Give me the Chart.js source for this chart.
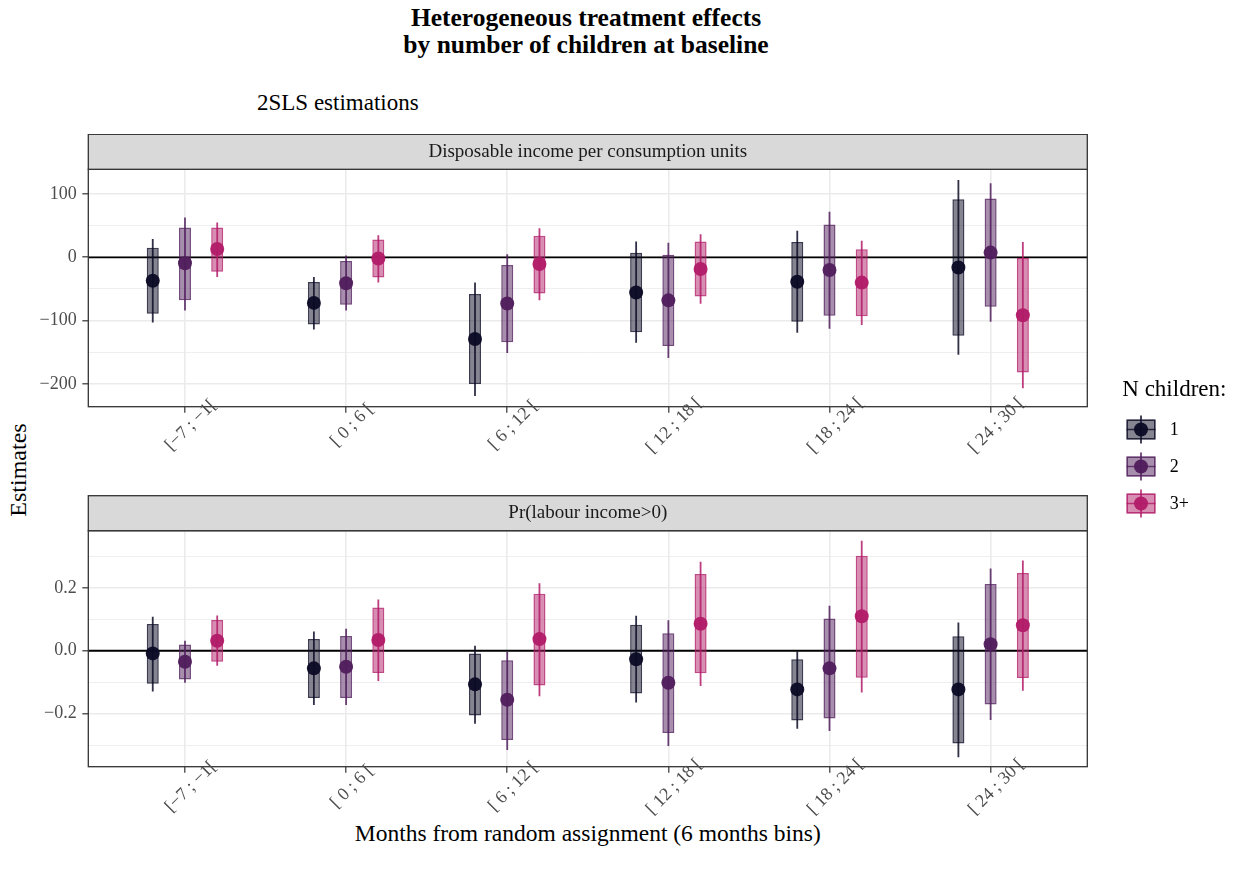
<!DOCTYPE html>
<html>
<head>
<meta charset="utf-8">
<script src="https://cdn.jsdelivr.net/npm/chart.js@4.4.1/dist/chart.umd.min.js"></script>
<style>
  html, body { margin: 0; padding: 0; background: #fff; }
  body { width: 1239px; height: 871px; overflow: hidden; position: relative;
         font-family: 'Liberation Serif', 'Times New Roman', serif; }
  .t { position: absolute; white-space: nowrap; line-height: 1; color: #000; }
  canvas { position: absolute; left: 0; }
</style>
</head>
<body>
<div class="t" style="left:0;width:1172px;text-align:center;top:4.6px;font-size:25.5px;font-weight:bold;">Heterogeneous treatment effects</div>
<div class="t" style="left:0;width:1172px;text-align:center;top:31.9px;font-size:25.5px;font-weight:bold;">by number of children at baseline</div>
<div class="t" style="left:257px;top:90.7px;font-size:23px;">2SLS estimations</div>
<div class="t" style="left:18px;top:470px;font-size:24px;transform:translate(-50%,-50%) rotate(-90deg);">Estimates</div>
<div class="t" style="left:0;width:1175.6px;text-align:center;top:822px;font-size:23.5px;">Months from random assignment (6 months bins)</div>

<canvas id="c1" width="1239" height="400" style="top:134px;width:1239px;height:400px;"></canvas>
<canvas id="c2" width="1239" height="376" style="top:495px;width:1239px;height:376px;"></canvas>

<script>
// ---------------- data ----------------
const categories = ['[\u22127 ; \u22121[', '[ 0 ; 6 [', '[ 6 ; 12 [', '[ 12 ; 18 [', '[ 18 ; 24 [', '[ 24 ; 30 ['];
const groups = ['1', '2', '3+'];
const legendTitle = 'N children:';
const panelTitles = ['Disposable income per consumption units', 'Pr(labour income>0)'];

// Panel 1: disposable income per consumption units
const incEst1   = [-37, -72, -129, -55.5, -38.6, -16];
const incBoxLo1 = [-89, -106, -200, -118.5, -102, -124];
const incBoxHi1 = [15, -39, -58, 7, 24, 91.5];
const incWhLo1  = [-103, -114, -219, -135, -119, -154];
const incWhHi1  = [29, -31, -40, 25, 42, 122];

const incEst2   = [-9.5, -41, -73, -68, -20, 7.4];
const incBoxLo2 = [-68, -75, -134, -140, -92.5, -78];
const incBoxHi2 = [47, -6, -12, 4, 52, 93];
const incWhLo2  = [-84, -84, -151, -159, -113, -102];
const incWhHi2  = [63, 3, 5, 23, 72, 117];

const incEst3   = [13, -2, -10.5, -18.5, -40, -91.5];
const incBoxLo3 = [-23, -32, -57, -62, -93, -182];
const incBoxHi3 = [47, 28, 34, 25, 12.7, -1];
const incWhLo3  = [-31, -40, -68, -73.5, -107, -207];
const incWhHi3  = [55, 35, 46, 36.5, 26, 24];

const incTicks = [-200, -150, -100, -50, 0, 50, 100];
const incTickLabels = ['\u2212200', '', '\u2212100', '', '0', '', '100'];

// Panel 2: Pr(labour income > 0)
const labEst1   = [-0.0085, -0.056, -0.107, -0.027, -0.123, -0.123];
const labBoxLo1 = [-0.105, -0.150, -0.206, -0.136, -0.222, -0.295];
const labBoxHi1 = [0.085, 0.037, -0.0085, 0.083, -0.027, 0.046];
const labWhLo1  = [-0.130, -0.173, -0.232, -0.165, -0.248, -0.339];
const labWhHi1  = [0.108, 0.061, 0.016, 0.111, -0.002, 0.090];

const labEst2   = [-0.035, -0.051, -0.156, -0.102, -0.056, 0.021];
const labBoxLo2 = [-0.0915, -0.150, -0.284, -0.262, -0.216, -0.171];
const labBoxHi2 = [0.020, 0.047, -0.030, 0.056, 0.103, 0.212];
const labWhLo2  = [-0.102, -0.173, -0.316, -0.303, -0.255, -0.220];
const labWhHi2  = [0.032, 0.070, -0.003, 0.097, 0.143, 0.262];

const labEst3   = [0.032, 0.034, 0.037, 0.086, 0.110, 0.081];
const labBoxLo3 = [-0.035, -0.071, -0.111, -0.072, -0.086, -0.087];
const labBoxHi3 = [0.098, 0.138, 0.181, 0.244, 0.302, 0.247];
const labWhLo3  = [-0.048, -0.096, -0.145, -0.112, -0.133, -0.127];
const labWhHi3  = [0.112, 0.163, 0.215, 0.283, 0.350, 0.287];

const labTicks = [-0.3, -0.2, -0.1, 0, 0.1, 0.2, 0.3];
const labTickLabels = ['', '\u22120.2', '', '0.0', '', '0.2', ''];

// ---------------- styling ----------------
const COLORS = [[11, 11, 38], [80, 30, 92], [178, 27, 104]];
const CAT_PCT = 0.6;
const DODGE = CAT_PCT / 3;
const FONT = "'Liberation Serif', 'Times New Roman', serif";
function rgba(c, a) { return `rgba(${c[0]},${c[1]},${c[2]},${a})`; }

const decoPlugin = {
  id: 'deco',
  beforeDatasetsDraw(chart) {
    const { ctx, chartArea: a, scales: { y } } = chart;
    const y0 = y.getPixelForValue(0);
    ctx.save();
    ctx.strokeStyle = '#000';
    ctx.lineWidth = 1.8;
    ctx.beginPath(); ctx.moveTo(a.left, y0); ctx.lineTo(a.right, y0); ctx.stroke();
    ctx.restore();
  },
  afterDraw(chart, args, opts) {
    const { ctx, chartArea: a, scales: { x } } = chart;
    ctx.save();
    // panel border
    ctx.strokeStyle = '#333';
    ctx.lineWidth = 1.3;
    ctx.strokeRect(a.left, a.top, a.right - a.left, a.bottom - a.top);
    // strip
    const sTop = a.top - 35;
    ctx.fillStyle = '#d9d9d9';
    ctx.fillRect(a.left, sTop, a.right - a.left, 35);
    ctx.strokeRect(a.left, sTop, a.right - a.left, 35);
    ctx.fillStyle = '#1a1a1a';
    ctx.font = `19px ${FONT}`;
    ctx.textAlign = 'center';
    ctx.textBaseline = 'middle';
    ctx.fillText(opts.title, (a.left + a.right) / 2, sTop + 17.8);
    // rotated category labels
    ctx.fillStyle = '#4d4d4d';
    ctx.font = `18px ${FONT}`;
    categories.forEach((c, i) => {
      const px = x.getPixelForValue(i);
      ctx.save();
      ctx.translate(px + 6, a.bottom + opts.labelDy);
      ctx.rotate(-Math.PI / 4);
      ctx.textAlign = 'center';
      ctx.textBaseline = 'middle';
      ctx.fillText(c, 0, 0);
      ctx.restore();
    });
    // legend
    if (opts.legend) {
      ctx.fillStyle = '#000';
      ctx.font = `23px ${FONT}`;
      ctx.textAlign = 'left';
      ctx.textBaseline = 'alphabetic';
      ctx.fillText(legendTitle, 1122.3, 262);
      groups.forEach((g, k) => {
        const cy = 295.5 + k * 37;
        const x0 = 1126.5, w = 29, h = 20, cx = x0 + w / 2;
        const col = COLORS[k];
        ctx.strokeStyle = rgba(col, 0.85);
        ctx.lineWidth = 1.8;
        ctx.beginPath(); ctx.moveTo(cx, cy - 14); ctx.lineTo(cx, cy + 14); ctx.stroke();
        ctx.fillStyle = rgba(col, 0.5);
        ctx.fillRect(x0, cy - h / 2, w, h);
        ctx.strokeStyle = rgba(col, 0.8);
        ctx.lineWidth = 1.5;
        ctx.strokeRect(x0 + 0.75, cy - h / 2 + 0.75, w - 1.5, h - 1.5);
        ctx.beginPath(); ctx.moveTo(x0, cy); ctx.lineTo(x0 + w, cy); ctx.stroke();
        ctx.fillStyle = rgba(col, 0.95);
        ctx.beginPath(); ctx.arc(cx, cy, 7, 0, Math.PI * 2); ctx.fill();
        ctx.fillStyle = '#000';
        ctx.font = `18px ${FONT}`;
        ctx.textBaseline = 'middle';
        ctx.fillText(g, 1169.7, cy + 1);
        ctx.textBaseline = 'alphabetic';
      });
    }
    ctx.restore();
  }
};

function makePanel(id, p) {
  const datasets = [];
  for (let k = 0; k < 3; k++) {
    datasets.push({
      type: 'scatter', label: groups[k], order: 0,
      data: categories.map((c, i) => ({ x: i + (k - 1) * DODGE, y: p.est[k][i] })),
      pointRadius: 7, pointHoverRadius: 7, pointBorderWidth: 0,
      pointBackgroundColor: rgba(COLORS[k], 0.95)
    });
  }
  for (let k = 0; k < 3; k++) {
    datasets.push({
      type: 'bar', label: groups[k] + ' box', order: 1, stack: 'g' + k,
      data: categories.map((c, i) => ({ x: i, y: [p.boxLo[k][i], p.boxHi[k][i]] })),
      backgroundColor: rgba(COLORS[k], 0.5), borderColor: rgba(COLORS[k], 0.8),
      borderWidth: 1.5, borderSkipped: false, inflateAmount: 0,
      categoryPercentage: CAT_PCT, barPercentage: 0.373
    });
  }
  for (let k = 0; k < 3; k++) {
    datasets.push({
      type: 'bar', label: groups[k] + ' ci', order: 2, stack: 'g' + k,
      data: categories.map((c, i) => ({ x: i, y: [p.whLo[k][i], p.whHi[k][i]] })),
      backgroundColor: rgba(COLORS[k], 0.85), borderWidth: 0, inflateAmount: 0,
      categoryPercentage: CAT_PCT, barPercentage: 0.056
    });
  }
  return new Chart(document.getElementById(id), {
    type: 'bar',
    data: { datasets },
    plugins: [decoPlugin],
    options: {
      responsive: false, animation: false, events: [],
      layout: { autoPadding: false, padding: { left: 0, top: p.padTop, right: 151.7, bottom: 0 } },
      plugins: {
        legend: { display: false }, tooltip: { enabled: false },
        deco: { title: p.title, labelDy: p.labelDy, legend: p.legend }
      },
      scales: {
        x: {
          type: 'linear', min: -0.6, max: 5.6, offset: false,
          afterBuildTicks: s => { s.ticks = categories.map((c, i) => ({ value: i })); },
          afterFit: s => { s.height = p.xAxisH; },
          ticks: { display: false },
          grid: { offset: false, color: '#ebebeb', lineWidth: 1.6, drawTicks: true,
                  tickLength: 6, tickColor: '#333', tickWidth: 1.2 },
          border: { display: false }
        },
        y: {
          type: 'linear', min: p.range[0], max: p.range[1], stacked: false,
          afterBuildTicks: s => { s.ticks = p.ticks.map(v => ({ value: v })); },
          afterFit: s => { s.width = 88.3; },
          ticks: { autoSkip: false, callback: (v, i) => p.tickLabels[i],
                   font: { family: FONT, size: 18 }, color: '#4d4d4d', padding: 5.6 },
          grid: { color: '#ebebeb', drawTicks: true, tickLength: 6, tickWidth: 1.2,
                  lineWidth: ctx => (p.tickLabels[ctx.index] ? 1.6 : 0.8),
                  tickColor: ctx => (p.tickLabels[ctx.index] ? '#333' : 'rgba(0,0,0,0)') },
          border: { display: false }
        }
      }
    }
  });
}

makePanel('c1', {
  title: panelTitles[0], legend: true, labelDy: 18.5,
  est: [incEst1, incEst2, incEst3],
  boxLo: [incBoxLo1, incBoxLo2, incBoxLo3], boxHi: [incBoxHi1, incBoxHi2, incBoxHi3],
  whLo: [incWhLo1, incWhLo2, incWhLo3], whHi: [incWhHi1, incWhHi2, incWhHi3],
  ticks: incTicks, tickLabels: incTickLabels, range: [-236, 139],
  padTop: 35.3, xAxisH: 127.3
});
makePanel('c2', {
  title: panelTitles[1], legend: false, labelDy: 20,
  est: [labEst1, labEst2, labEst3],
  boxLo: [labBoxLo1, labBoxLo2, labBoxLo3], boxHi: [labBoxHi1, labBoxHi2, labBoxHi3],
  whLo: [labWhLo1, labWhLo2, labWhLo3], whHi: [labWhHi1, labWhHi2, labWhHi3],
  ticks: labTicks, tickLabels: labTickLabels, range: [-0.369, 0.382],
  padTop: 35.7, xAxisH: 104.3
});
</script>
</body>
</html>
